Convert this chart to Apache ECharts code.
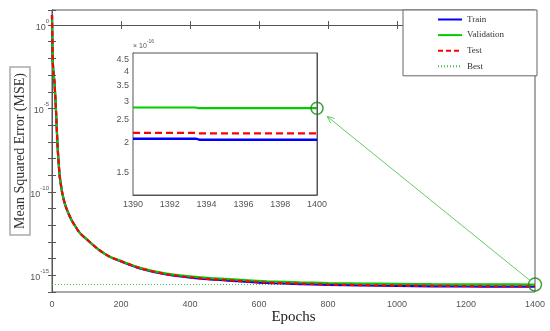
<!DOCTYPE html>
<html>
<head>
<meta charset="utf-8">
<script src="https://cdn.jsdelivr.net/npm/echarts@6/dist/echarts.min.js"></script>
<style>html,body{margin:0;padding:0;background:#fff}#c{width:550px;height:331px}</style>
</head>
<body>
<div id="c"></div>
<script>
// ---------------- data ----------------
const epochs = [0,1,2,4,7,9,12,16,22,26,30,37,44,50,58,66,75,85,104,120,135,165,197,255,332,440,537,623,719,800,900,1000,1100,1200,1300,1390,1400];
const trainMSE = [4.0,0.16,1e-2,1.6e-3,4e-4,8e-5,5e-6,6.3e-8,1e-9,2.5e-10,7.9e-11,2e-11,7.9e-12,4e-12,1.8e-12,1e-12,5e-13,2.8e-13,1.26e-13,6.3e-14,3.5e-14,1.36e-14,7.2e-15,2.6e-15,1.12e-15,6.0e-16,4.47e-16,3.47e-16,3.0e-16,2.7e-16,2.45e-16,2.32e-16,2.2e-16,2.14e-16,2.1e-16,2.08e-16,2.06e-16];
const valMSE   = [4.0,0.16,1e-2,1.6e-3,4e-4,8e-5,5e-6,6.3e-8,1e-9,2.5e-10,7.9e-11,2e-11,7.9e-12,4e-12,1.8e-12,1e-12,5e-13,2.8e-13,1.26e-13,6.3e-14,3.5e-14,1.4e-14,7.6e-15,2.8e-15,1.26e-15,7.2e-16,5.5e-16,4.4e-16,3.8e-16,3.47e-16,3.24e-16,3.09e-16,2.95e-16,2.88e-16,2.83e-16,2.82e-16,2.80e-16];
const testMSE  = [4.0,0.16,1e-2,1.6e-3,4e-4,8e-5,5e-6,6.3e-8,1e-9,2.5e-10,7.9e-11,2e-11,7.9e-12,4e-12,1.8e-12,1e-12,5e-13,2.8e-13,1.26e-13,6.3e-14,3.5e-14,1.38e-14,7.4e-15,2.7e-15,1.15e-15,6.3e-16,4.7e-16,3.7e-16,3.16e-16,2.82e-16,2.57e-16,2.45e-16,2.34e-16,2.26e-16,2.21e-16,2.2e-16,2.19e-16];
const bestMSE = 2.8e-16;
const bestEpoch = 1400;

// zoomed inset (last 10 epochs)
const zoomEpochs = [1390, 1393.4, 1393.6, 1400];
const zoomTrain = [2.08e-16, 2.08e-16, 2.06e-16, 2.06e-16];
const zoomVal   = [2.82e-16, 2.82e-16, 2.80e-16, 2.80e-16];
const zoomTest  = [2.20e-16, 2.20e-16, 2.19e-16, 2.19e-16];
const zoomScale = 1e-16;
const zoomYTicks = [1.5, 2, 2.5, 3, 3.5, 4, 4.5];

const legendNames = ['Train','Validation','Test','Best'];

// ---------------- helpers ----------------
const L = v => Math.log10(v);
const mainPts = arr => epochs.map((e,i) => [e, L(arr[i])]);
const zoomPts = arr => zoomEpochs.map((e,i) => [e, L(arr[i]/zoomScale)]);

const tickFont = 'Liberation Sans';
const tickColor = '#555';
const frame = '#555';

const chart = echarts.init(document.getElementById('c'), null, {renderer:'canvas'});

const mainX = {
  type:'value', min:0, max:1400, interval:200,
  axisLine:{show:true, lineStyle:{color:frame}},
  axisTick:{show:true, inside:true, length:4, lineStyle:{color:frame}},
  splitLine:{show:false}
};
const mainY = {
  type:'value', min:-16, max:0.9, interval:1,
  axisLine:{show:true, lineStyle:{color:frame}},
  axisTick:{show:true, inside:true, length:4, lineStyle:{color:frame}},
  splitLine:{show:false}
};
const zX = {
  type:'value', min:1390, max:1400, interval:2,
  axisLine:{show:true, lineStyle:{color:frame}},
  axisTick:{show:true, inside:true, length:3, lineStyle:{color:frame}},
  splitLine:{show:false}
};
const zY = {
  type:'value', min:L(1.2), max:L(4.8),
  axisLine:{show:true, lineStyle:{color:frame}},
  axisTick:{show:true, inside:true, length:3, lineStyle:{color:frame}, customValues: zoomYTicks.map(L)},
  splitLine:{show:false}
};

const option = {
  animation:false,
  backgroundColor:'#fff',
  grid:[
    {left:52, right:15, top:10, bottom:39, show:true, borderColor:frame, borderWidth:1, backgroundColor:'#fff', outerBoundsMode:'none', containLabel:false},
    {left:133, top:53, width:184, height:142, show:true, borderColor:frame, borderWidth:1, backgroundColor:'#fff', z:5, outerBoundsMode:'none', containLabel:false}
  ],
  legend:{
    data:legendNames, orient:'vertical', left:403, top:10,
    backgroundColor:'#fff', borderColor:'#666', borderWidth:1, borderRadius:0,
    padding:[5,33,5,34], itemWidth:24, itemHeight:10, itemGap:6.6,
    itemStyle:{opacity:0},
    textStyle:{fontFamily:'Liberation Serif', fontSize:9, color:'#333'},
    selectedMode:false, z:20
  },
  xAxis:[
    Object.assign({}, mainX, {gridIndex:0, position:'bottom',
      name:'Epochs', nameLocation:'middle', nameGap:18, nameMoveOverlap:false,
      nameTextStyle:{fontFamily:'Liberation Serif', fontSize:15, color:'#222'},
      axisLabel:{margin:8, fontFamily:tickFont, fontSize:9, color:tickColor, formatter: v => String(v)}}),
    Object.assign({}, mainX, {gridIndex:0, position:'top', axisLabel:{show:false}}),
    Object.assign({}, zX, {gridIndex:1, position:'bottom', axisLabel:{margin:5, fontFamily:tickFont, fontSize:9, color:tickColor, formatter: v => String(v)}}),
    Object.assign({}, zX, {gridIndex:1, position:'top', axisLabel:{show:false}})
  ],
  yAxis:[
    Object.assign({}, mainY, {gridIndex:0, position:'left',
      name:'Mean Squared Error (MSE)', nameLocation:'middle', nameGap:22, nameMoveOverlap:false,
      nameTextStyle:{fontFamily:'Liberation Serif', fontSize:14, color:'#333',
        borderColor:'#aaa', borderWidth:1.5, padding:[3,6,3,6]},
      axisLabel:{margin:3, formatter: v => (Math.abs(v % 5) < 1e-9 && v <= 0) ? '{b|10}{s|' + v + '}' : '',
        rich:{b:{fontFamily:tickFont, fontSize:9, color:tickColor, verticalAlign:'bottom', lineHeight:14},
              s:{fontFamily:tickFont, fontSize:6, color:tickColor, verticalAlign:'top', lineHeight:14}}}}),
    Object.assign({}, mainY, {gridIndex:0, position:'right', axisLabel:{show:false}}),
    Object.assign({}, zY, {gridIndex:1, position:'left',
      name:'{t|× 10}{s|-16}', nameLocation:'end', nameGap:3, nameMoveOverlap:false,
      nameTextStyle:{align:'left', rich:{t:{fontFamily:tickFont, fontSize:7, color:tickColor, verticalAlign:'bottom', lineHeight:11},
                                         s:{fontFamily:tickFont, fontSize:5, color:tickColor, verticalAlign:'top', lineHeight:11}}},
      axisLabel:{margin:4, fontFamily:tickFont, fontSize:9, color:tickColor, customValues: zoomYTicks.map(L),
        formatter: v => String(Math.round(Math.pow(10, v)*10)/10)}}),
    Object.assign({}, zY, {gridIndex:1, position:'right', axisLabel:{show:false}})
  ],
  series:[
    {name:'Train', type:'line', xAxisIndex:0, yAxisIndex:0, data:mainPts(trainMSE), showSymbol:false, symbol:'none',
      smooth:0.25, lineStyle:{color:'#0000ff', width:2.2}, itemStyle:{color:'#0000ff'}, z:2},
    {name:'Validation', type:'line', xAxisIndex:0, yAxisIndex:0, data:mainPts(valMSE), showSymbol:false, symbol:'none',
      smooth:0.25, lineStyle:{color:'#00cc00', width:2.2}, itemStyle:{color:'#00cc00'}, z:3},
    {name:'Test', type:'line', xAxisIndex:0, yAxisIndex:0, data:mainPts(testMSE), showSymbol:false, symbol:'none',
      smooth:0.25, lineStyle:{color:'#ff0000', width:2.2, type:[5,3]}, itemStyle:{color:'#ff0000'}, z:4},
    {name:'Best', type:'line', xAxisIndex:0, yAxisIndex:0, data:[[0, L(bestMSE)],[1400, L(bestMSE)]], showSymbol:false, symbol:'none',
      lineStyle:{color:'#44bb44', width:1, type:[1,2]}, itemStyle:{color:'#44bb44'}, z:1},
    {name:'bestMark', type:'scatter', xAxisIndex:0, yAxisIndex:0, data:[[bestEpoch, L(bestMSE)]], symbol:'circle', symbolSize:13, clip:false,
      itemStyle:{color:'rgba(0,0,0,0)', borderColor:'#118811', borderWidth:1.5}, z:6},
    {name:'zTrain', type:'line', xAxisIndex:2, yAxisIndex:2, data:zoomPts(zoomTrain), showSymbol:false, symbol:'none',
      lineStyle:{color:'#0000ff', width:2.5}, z:6},
    {name:'zVal', type:'line', xAxisIndex:2, yAxisIndex:2, data:zoomPts(zoomVal), showSymbol:false, symbol:'none',
      lineStyle:{color:'#00cc00', width:2.2}, z:6},
    {name:'zTest', type:'line', xAxisIndex:2, yAxisIndex:2, data:zoomPts(zoomTest), showSymbol:false, symbol:'none',
      lineStyle:{color:'#ff0000', width:2.2, type:[7,4]}, z:6},
    {name:'zBestMark', type:'scatter', xAxisIndex:2, yAxisIndex:2, data:[[bestEpoch, L(bestMSE/zoomScale)]], symbol:'circle', symbolSize:12, clip:false,
      itemStyle:{color:'rgba(0,0,0,0)', borderColor:'#118811', borderWidth:1.5}, z:7}
  ]
};
chart.setOption(option);

// connector arrow from the best point to its zoomed copy
const p0 = chart.convertToPixel({xAxisIndex:0, yAxisIndex:0}, [bestEpoch, L(bestMSE)]);
const p1 = chart.convertToPixel({xAxisIndex:2, yAxisIndex:2}, [bestEpoch, L(bestMSE/zoomScale)]);
const dx = p1[0]-p0[0], dy = p1[1]-p0[1], len = Math.hypot(dx,dy);
const ux = dx/len, uy = dy/len;
const s = [p0[0]+ux*6, p0[1]+uy*6];
const e = [p1[0]-ux*13, p1[1]-uy*13];
const ah = 7, aw = 3;
const bx = e[0]-ux*ah, by = e[1]-uy*ah;
chart.setOption({graphic:[
  {type:'line', shape:{x1:s[0], y1:s[1], x2:e[0], y2:e[1]}, style:{stroke:'#66cc66', lineWidth:1}, z:30},
  {type:'polyline', shape:{points:[[bx - uy*aw, by + ux*aw], e, [bx + uy*aw, by - ux*aw]]}, style:{stroke:'#66cc66', lineWidth:1, fill:null}, z:30}
]});
</script>
</body>
</html>
